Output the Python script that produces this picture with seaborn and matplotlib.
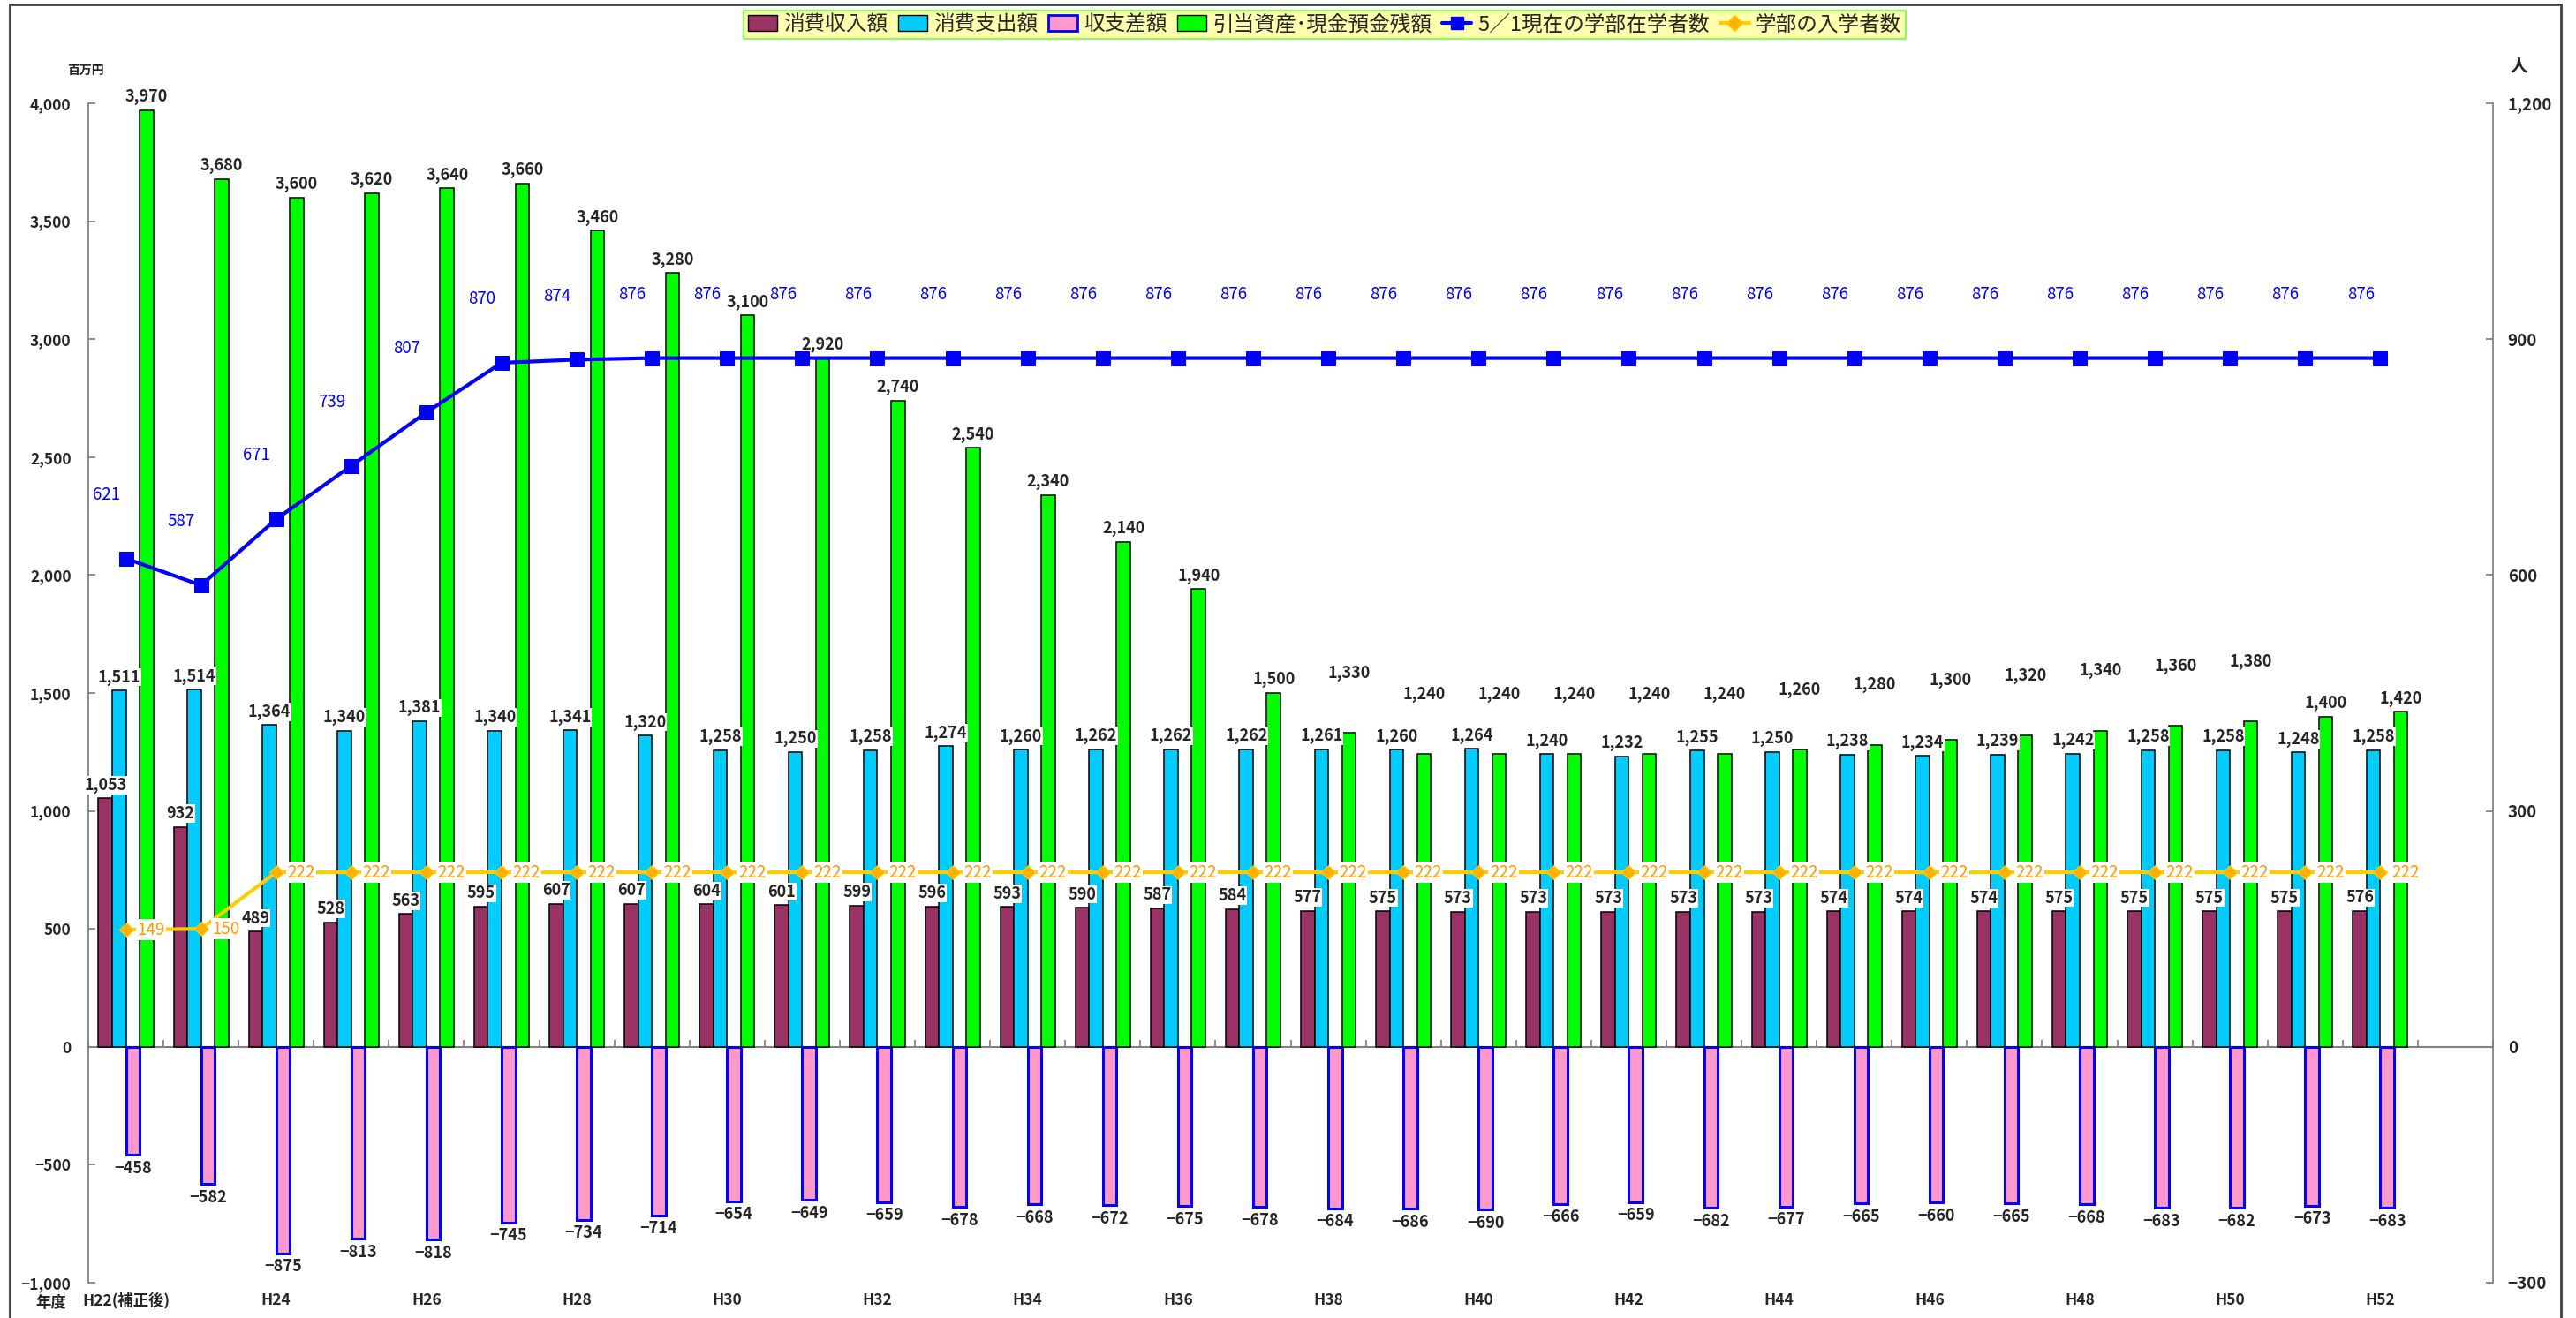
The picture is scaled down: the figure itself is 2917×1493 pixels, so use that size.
import numpy as np
import pandas as pd
import matplotlib.pyplot as plt
import seaborn as sns
from matplotlib.patches import Patch, Rectangle
from matplotlib.lines import Line2D
from matplotlib.ticker import FuncFormatter

sns.set_theme(style="white")
plt.rcParams['font.family'] = ['Noto Sans CJK JP', 'DejaVu Sans']

# data (百万円 / 人)
years = ['H22(補正後)', 'H23', 'H24', 'H25', 'H26', 'H27', 'H28', 'H29', 'H30', 'H31',
         'H32', 'H33', 'H34', 'H35', 'H36', 'H37', 'H38', 'H39', 'H40', 'H41',
         'H42', 'H43', 'H44', 'H45', 'H46', 'H47', 'H48', 'H49', 'H50', 'H51', 'H52']
income = [1053, 932, 489, 528, 563, 595, 607, 607, 604, 601,
          599, 596, 593, 590, 587, 584, 577, 575, 573, 573,
          573, 573, 573, 574, 574, 574, 575, 575, 575, 575, 576]
expense = [1511, 1514, 1364, 1340, 1381, 1340, 1341, 1320, 1258, 1250,
           1258, 1274, 1260, 1262, 1262, 1262, 1261, 1260, 1264, 1240,
           1232, 1255, 1250, 1238, 1234, 1239, 1242, 1258, 1258, 1248, 1258]
balance = [-458, -582, -875, -813, -818, -745, -734, -714, -654, -649,
           -659, -678, -668, -672, -675, -678, -684, -686, -690, -666,
           -659, -682, -677, -665, -660, -665, -668, -683, -682, -673, -683]
reserve = [3970, 3680, 3600, 3620, 3640, 3660, 3460, 3280, 3100, 2920,
           2740, 2540, 2340, 2140, 1940, 1500, 1330, 1240, 1240, 1240,
           1240, 1240, 1260, 1280, 1300, 1320, 1340, 1360, 1380, 1400, 1420]
enrolled = [621, 587, 671, 739, 807, 870, 874, 876, 876, 876,
            876, 876, 876, 876, 876, 876, 876, 876, 876, 876,
            876, 876, 876, 876, 876, 876, 876, 876, 876, 876, 876]
entrants = [149, 150, 222, 222, 222, 222, 222, 222, 222, 222,
            222, 222, 222, 222, 222, 222, 222, 222, 222, 222,
            222, 222, 222, 222, 222, 222, 222, 222, 222, 222, 222]

bar_names = ['消費収入額', '消費支出額', '収支差額', '引当資産･現金預金残額']
bar_colors = ['#993366', '#00CCFF', '#FF99CC', '#00FF00']
line_names = ['5／1現在の学部在学者数', '学部の入学者数']

df = pd.DataFrame({'year': years, bar_names[0]: income, bar_names[1]: expense,
                   bar_names[2]: balance, bar_names[3]: reserve})
long_df = df.melt(id_vars='year', var_name='series', value_name='value')


def num(v, pos=None):
    return f'{v:,.0f}'.replace('-', '−')


fig = plt.figure(figsize=(29.17, 14.93), dpi=100)
ax = fig.add_axes([100 / 2917, 1 - 1453 / 1493, 2723 / 2917, 1336 / 1493])

sns.barplot(data=long_df, x='year', y='value', hue='series', hue_order=bar_names,
            palette=bar_colors, width=0.73, saturation=1, errorbar=None,
            edgecolor='black', linewidth=1.1, legend=False, ax=ax)
for bar in ax.containers[2]:
    bar.set_edgecolor('#0000FF')
    bar.set_linewidth(2.2)

label_sets = []
for cont in ax.containers:
    label_sets.append(ax.bar_label(cont, fmt=num, padding=4, fontsize=13, fontweight='bold',
                                   bbox=dict(facecolor='white', edgecolor='none', pad=0.5)))
# lift reserve labels where they would sit on the expense labels
for t, r, e in zip(label_sets[3], reserve, expense):
    if r - e < 150:
        t.xyann = (0, 42)

ax.set_xlim(-0.5, 31.5)
ax.set_ylim(-1000, 4000)
ax.set_yticks(np.arange(-1000, 4001, 500))
ax.yaxis.set_major_formatter(FuncFormatter(num))
ax.set_xticks(np.arange(len(years)))
ax.set_xticklabels([y if i % 2 == 0 else '' for i, y in enumerate(years)])
ax.set_xlabel('')
ax.set_ylabel('')
ax.tick_params(axis='x', length=0, pad=8, labelsize=12.5)
ax.tick_params(axis='y', direction='in', length=6, color='gray', labelsize=12.5, pad=14)
for lab in ax.get_xticklabels() + ax.get_yticklabels():
    lab.set_fontweight('bold')
for side in ['top', 'right', 'bottom']:
    ax.spines[side].set_visible(False)
ax.spines['left'].set_color('gray')

# category axis drawn through zero
zero_frac = 1000 / 5000
sec = ax.secondary_xaxis(zero_frac)
sec.set_xticks(np.arange(-0.5, 32, 1))
sec.set_xticklabels([])
sec.tick_params(direction='in', length=6, color='gray')
sec.spines['bottom'].set_color('gray')
sec.spines['bottom'].set_linewidth(1.5)

# people axis
ax2 = ax.twinx()
pos = np.arange(len(years))
sns.lineplot(x=pos, y=enrolled, ax=ax2, color='#0000FF', linewidth=3,
             marker='s', markersize=11, markeredgecolor='#0000FF')
sns.lineplot(x=pos, y=entrants, ax=ax2, color='#FFCC00', linewidth=3,
             marker='D', markersize=8, markerfacecolor='#FFB000', markeredgecolor='#FFCC00')
for x, v in zip(pos, enrolled):
    ax2.annotate(f'{v}', (x, v), xytext=(-16, 52), textcoords='offset points',
                 ha='center', va='center', color='#0000FF', fontsize=13.5)
for x, v in zip(pos, entrants):
    ax2.annotate(f'{v}', (x, v), xytext=(9, 0), textcoords='offset points',
                 ha='left', va='center', color='#FF9900', fontsize=13.5,
                 bbox=dict(facecolor='white', edgecolor='none', pad=1))
ax2.set_ylim(-300, 1200)
ax2.set_yticks([-300, 0, 300, 600, 900, 1200])
ax2.yaxis.set_major_formatter(FuncFormatter(num))
ax2.tick_params(axis='y', direction='in', length=6, color='gray', labelsize=13.5, pad=12)
for lab in ax2.get_yticklabels():
    lab.set_fontweight('bold')
for side in ['top', 'left', 'bottom']:
    ax2.spines[side].set_visible(False)
ax2.spines['right'].set_color('gray')
ax2.set_xlim(-0.5, 31.5)

# units and corner texts
fig.text(97 / 2917, 1 - 80 / 1493, '百万円', ha='center', va='center', fontsize=10, fontweight='bold')
fig.text(2852 / 2917, 1 - 75 / 1493, '人', ha='center', va='center', fontsize=14, fontweight='bold')
fig.text(58 / 2917, 1 - 1476 / 1493, '年度', ha='center', va='center', fontsize=12.5, fontweight='bold')

# legend
handles = [Patch(facecolor=bar_colors[0], edgecolor='black'),
           Patch(facecolor=bar_colors[1], edgecolor='black'),
           Patch(facecolor=bar_colors[2], edgecolor='#0000FF', linewidth=2),
           Patch(facecolor=bar_colors[3], edgecolor='black'),
           Line2D([], [], color='#0000FF', lw=3, marker='s', markersize=10),
           Line2D([], [], color='#FFCC00', lw=3, marker='D', markersize=9,
                  markerfacecolor='#FFB000', markeredgecolor='#FFCC00')]
leg = fig.legend(handles, bar_names + line_names, loc='center',
                 bbox_to_anchor=(1500 / 2917, 1 - 28 / 1493), ncol=6, fontsize=17,
                 frameon=True, fancybox=False, facecolor='#FFFF99', edgecolor='#66FF33',
                 handlelength=1.4, handleheight=0.8, handletextpad=0.3,
                 columnspacing=0.5, borderpad=0.2)
leg.get_frame().set_linewidth(1.5)

# chart border
fig.patches.append(Rectangle((11 / 2917, -0.01), 2889 / 2917, 1.01 - 5 / 1493,
                             transform=fig.transFigure, fill=False,
                             edgecolor='#404040', linewidth=2))

fig.savefig('out.png', dpi=100)
